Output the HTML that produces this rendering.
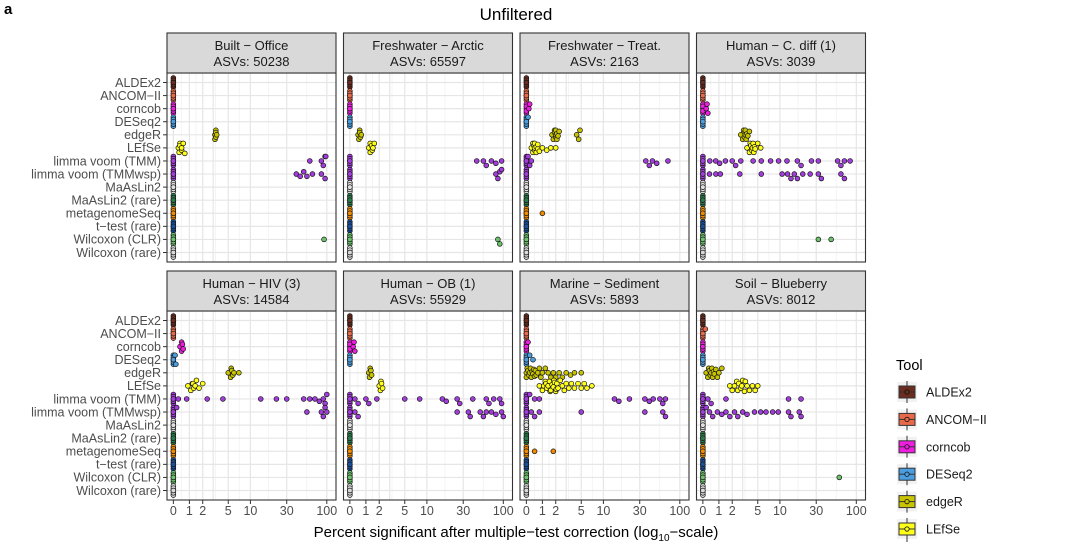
<!DOCTYPE html>
<html><head><meta charset="utf-8"><style>
html,body{margin:0;padding:0;background:#fff;}
svg{display:block;font-family:"Liberation Sans",Arial,sans-serif;}
</style></head><body>
<svg id="chart" width="1080" height="544" viewBox="0 0 1080 544">
<text x="4" y="14" font-size="15" font-weight="bold" fill="#000">a</text>
<text x="516" y="20" font-size="17" text-anchor="middle" fill="#000">Unfiltered</text>
<text x="516" y="537" font-size="15" text-anchor="middle" fill="#000">Percent significant after multiple−test correction (log<tspan font-size="10" dy="4">10</tspan><tspan dy="-4">−scale)</tspan></text>
<g id="panels"></g>
<g id="legend"></g>
</svg>
<script>
const tools = ["ALDEx2","ANCOM−II","corncob","DESeq2","edgeR","LEfSe","limma voom (TMM)","limma voom (TMMwsp)","MaAsLin2","MaAsLin2 (rare)","metagenomeSeq","t−test (rare)","Wilcoxon (CLR)","Wilcoxon (rare)"];
const toolColors = ["#6b2d1f","#e8694a","#ee1ee0","#4a9ee0","#c9c400","#ffff1a","#a23cdc","#a23cdc","#e0e0e0","#2a7a4a","#f08a00","#1a4f9a","#6cc36c","#d9d9d9"];
const legendTools = ["ALDEx2","ANCOM−II","corncob","DESeq2","edgeR","LEfSe"];
const panelTitles = ["Built − Office","Freshwater − Arctic","Freshwater − Treat.","Human − C. diff (1)","Human − HIV (3)","Human − OB (1)","Marine − Sediment","Soil − Blueberry"];
const panelASVs = [50238,65597,2163,3039,14584,55929,5893,8012];
const xTicks = [0,1,2,3,5,10,30,100];
const xTicksRow2 = [0,1,2,5,10,30,100];
const xTickLabelsRow2 = ["0","1","2","5","10","30","100"];

const builtOffice = [
 [0,0,0,0,0,0],[0,0,0,0,0,0],[0,0,0,0,0,0],[0,0,0,0,0,0],
 [3.2,3.3,3.3,3.4,3.2,3.3],
 [0.3,0.4,0.5,0.6,0.4,0.5,0.7,0.35],
 [0,0,0,0,0,0,60,85,90,95,97],
 [0,0,0,0,0,0,40,45,50,55,65,85,95],
 [0,0,0,0,0,0],[0,0,0,0,0,0],[0,0,0,0,0,0],[0,0,0,0,0,0],
 [0,0,0,0,0,0,92],[0,0,0,0,0,0]];
const freshArctic = [
 [0,0,0,0,0,0],[0,0,0,0,0,0],[0,0,0,0,0,0],[0,0,0,0,0,0],
 [0.5,0.6,0.7,0.6,0.65,0.55],
 [1.2,1.3,1.4,1.5,1.6,1.3,1.45],
 [0,0,0,0,0,0,45,55,60,70,80,95],
 [0,0,0,0,0,0,80,85,90,95],
 [0,0,0,0,0,0],[0,0,0,0,0,0],[0,0,0,0,0,0],[0,0,0,0,0,0],
 [0,0,0,0,0,0,85,90],[0,0,0,0,0,0]];
const freshTreat = [
 [0,0,0,0,0,0],[0,0,0,0,0,0],[0,0,0,0,0,0.15,0.2],[0,0,0,0,0,0,0.1],
 [1.8,1.9,2,2.1,2.2,2,1.9,2.1,2.3,1.7,2.0,4.3,4.6,4.8],
 [0.3,0.4,0.5,0.5,0.6,0.7,0.8,0.6,1.0,1.3,1.6,2.0,0.4,0.5,0.45,0.7],
 [0,0,0,0,0,0,0.1,0.2,0.3,36,40,44,50,70],
 [0,0,0,0,0,0],
 [0,0,0,0,0,0],[0,0,0,0,0,0],[0,0,0,0,0,0,1.0],[0,0,0,0,0,0],
 [0,0,0,0,0,0],[0,0,0,0,0,0]];
const humanCdiff = [
 [0,0,0,0,0,0],[0,0,0,0,0,0],[0,0,0,0,0,0.2,0.3,0.25],[0,0,0,0,0,0],
 [2.8,3.0,3.2,3.3,3.4,3.6,3.8,3.1,3.3,3.5,3.2],
 [3.5,3.8,4.0,4.2,4.4,4.6,5.0,5.5,4.1,4.3,3.9,4.5],
 [0,0,0,0,0,0,0.42,0.79,1.05,1.46,2.0,2.3,2.8,4.3,5.6,7.5,9.6,12.4,17,19,26,32,57,63,70,83],
 [0,0,0,0,0,0,0.4,0.8,1.1,2.7,5.6,10.7,12.6,14,15.5,17,20,25,32,35,63,70],
 [0,0,0,0,0,0],[0,0,0,0,0,0],[0,0,0,0,0,0],[0,0,0,0,0,0],
 [0,0,0,0,0,0,32,47],[0,0,0,0,0,0]];
const humanHIV = [
 [0,0,0,0,0,0],[0,0,0,0,0,0],[0.4,0.5,0.55,0.5,0.6],[0,0,0,0,0,0,0.1,0.15],
 [5.0,5.4,5.6,5.8,6.0,7.0,5.5],
 [0.9,1.1,1.2,1.3,1.4,1.5,1.7,2.0,1.25],
 [0,0,0,0,0,0,0.3,0.82,2.4,4.2,13.7,22,30,50,60,70,80,90,95,100],
 [0,0,0,0,0,0,0.2,55,85,90,95,100],
 [0,0,0,0,0,0],[0,0,0,0,0,0],[0,0,0,0,0,0],[0,0,0,0,0,0],
 [0,0,0,0,0,0],[0,0,0,0,0,0]];
const humanOB = [
 [0,0,0,0,0,0],[0,0,0,0,0,0],[0,0,0,0,0,0.2,0.3,0.25],[0,0,0,0,0,0],
 [1.2,1.3,1.4,1.25,1.35],
 [2.0,2.1,2.2,2.3,2.15],
 [0,0,0,0,0,0,0.3,0.5,1,1.2,1.8,5,8,16,18,25,27,40,60,65,75,90,95],
 [0,0,0,0,0,0,0.3,0.5,25,35,37,50,55,60,70,80,95,100],
 [0,0,0,0,0,0],[0,0,0,0,0,0],[0,0,0,0,0,0],[0,0,0,0,0,0],
 [0,0,0,0,0,0],[0,0,0,0,0,0]];
const marineSed = [
 [0,0,0,0,0,0],[0,0,0,0,0,0],[0,0,0,0,0,0,0.1],[0,0,0,0,0,0,0.2,0.4],
 [0,0,0.05,0.1,0.15,0.2,0.3,0.35,0.4,0.5,0.6,0.7,0.8,0.9,1.0,1.2,1.4,1.6,1.8,2.0,2.3,2.6,3,3.5,4,5,0.25,0.45,0.55],
 [0.8,1.0,1.1,1.2,1.3,1.4,1.5,1.6,1.7,1.8,1.9,2.0,2.1,2.2,2.4,2.6,2.8,3.0,3.3,3.6,4,4.5,5,5.5,6,7,1.25,1.55,1.85,2.05],
 [0,0,0,0,0,0,0.2,0.5,0.8,14,16,22,35,40,45,55,60,65],
 [0,0,0,0,0,0,0.3,0.5,0.8,5,35,60,65],
 [0,0,0,0,0,0],[0,0,0,0,0,0],[0,0,0,0,0,0,0.5,1.8],[0,0,0,0,0,0],
 [0,0,0,0,0,0],[0,0,0,0,0,0]];
const soilBlue = [
 [0,0,0,0,0,0],[0,0,0,0,0,0,0.15],[0,0,0,0,0,0],[0,0,0,0,0,0],
 [0.2,0.3,0.4,0.5,0.6,0.7,0.8,0.9,1.0,1.2,0.45,0.55,0.65,0.35],
 [1.8,2.0,2.2,2.4,2.6,2.8,3.0,3.2,3.5,3.8,4.2,4.6,5.0,2.5,2.9,3.3],
 [0,0,0,0,0,0,0.3,0.5,1.5,13,19],
 [0,0,0,0,0,0,0.2,0.4,0.6,0.9,1.2,1.5,1.8,2.2,2.5,3,3.5,4.5,5.5,6.5,8,9.5,13,14,18,19],
 [0,0,0,0,0,0],[0,0,0,0,0,0],[0,0,0,0,0,0],[0,0,0,0,0,0],
 [0,0,0,0,0,0,60],[0,0,0,0,0,0]];
const panelData = [builtOffice,freshArctic,freshTreat,humanCdiff,humanHIV,humanOB,marineSed,soilBlue];

const NS = "http://www.w3.org/2000/svg";
function mk(tag, attrs, parent){const e=document.createElementNS(NS,tag);for(const k in attrs)e.setAttribute(k,attrs[k]);if(parent)parent.appendChild(e);return e;}
const T = v => Math.asinh(v/2)/Math.LN10;
const panelLefts=[167,343.5,520,696.5], panelW=169, stripH=40;
const rowTops=[33,271];
const plotH=189;
const dMin=-0.083, dMax=2.12;
function xScale(p,v){return panelLefts[p%4] + (T(v)-dMin)/(dMax-dMin)*panelW;}
function yScale(r,i){return rowTops[r]+stripH+9.5+i*(170/13);}
const gP=document.getElementById('panels');

for(let p=0;p<8;p++){
  const r=Math.floor(p/4), left=panelLefts[p%4], top=rowTops[r], pTop=top+stripH;
  const g=mk('g',{},gP);
  
  
  mk('rect',{x:left,y:pTop,width:panelW,height:plotH,fill:'#fff'},g);
  for(let k=0;k<xTicksRow2.length-1;k++){
    const m=(T(xTicksRow2[k])+T(xTicksRow2[k+1]))/2;
    const x=left+(m-dMin)/(dMax-dMin)*panelW;
    mk('line',{x1:x,x2:x,y1:pTop,y2:pTop+plotH,stroke:'#f2f2f2','stroke-width':0.8},g);
  }
  xTicks.forEach(t=>{const x=xScale(p,t);mk('line',{x1:x,x2:x,y1:pTop,y2:pTop+plotH,stroke:'#e6e6e6','stroke-width':1.2},g);});
  tools.forEach((t,i)=>{const y=yScale(r,i);mk('line',{x1:left,x2:left+panelW,y1:y,y2:y,stroke:'#e6e6e6','stroke-width':1.2},g);});
  panelData[p].forEach((vals,i)=>{
    const yc=yScale(r,i);
    const sorted=vals.slice().sort((a,b)=>a-b);
    const placed=[];
    let cyc=0;
    const fallback=[-2.3,2.3,0,-4.5,4.5,-1.1,1.1,-3.4,3.4];
    sorted.forEach(v=>{
      const x=xScale(p,v);
      let off=null;
      const cands=[0,2.3,-2.3,4.5,-4.5,5.5,-5.5];
      for(const c of cands){
        if(placed.every(q=>Math.hypot(q[0]-x,q[1]-c)>=4.5)){off=c;break;}
      }
      if(off===null){off=fallback[cyc%fallback.length];cyc++;}
      placed.push([x,off]);
      const c=mk('circle',{cx:x.toFixed(2),cy:(yc+off).toFixed(2),r:2.4,fill:toolColors[i],stroke:'#111','stroke-width':0.7},g);
      
      
    });
  });
  mk('rect',{x:left,y:pTop,width:panelW,height:plotH,fill:'none',stroke:'#333','stroke-width':1.1},g);
  const s=mk('rect',{x:left,y:top,width:panelW,height:stripH,fill:'#d9d9d9',stroke:'#333','stroke-width':1.1},g);
  
  
  const st=mk('text',{x:left+panelW/2,y:top+17,'font-size':13,'text-anchor':'middle',fill:'#1a1a1a'},g);
  st.textContent=panelTitles[p];
  
  
  const st2=mk('text',{x:left+panelW/2,y:top+33,'font-size':13,'text-anchor':'middle',fill:'#1a1a1a'},g);
  st2.textContent='ASVs: '+panelASVs[p];
  
  
  if(p%4===0){
    tools.forEach((t,i)=>{
      const y=yScale(r,i);
      mk('line',{x1:left-4,x2:left,y1:y,y2:y,stroke:'#333','stroke-width':1},g);
      const tx=mk('text',{x:left-6,y:y+4.3,'font-size':12.5,'text-anchor':'end',fill:'#4d4d4d'},g);
      tx.textContent=t;
      
      
    });
  }
  if(r===1){
    xTicksRow2.forEach((t,k)=>{
      const x=xScale(p,t);
      mk('line',{x1:x,x2:x,y1:pTop+plotH,y2:pTop+plotH+4,stroke:'#333','stroke-width':1},g);
      const tx=mk('text',{x:x,y:pTop+plotH+15,'font-size':12.5,'text-anchor':'middle',fill:'#4d4d4d'},g);
      tx.textContent=xTickLabelsRow2[k];
      
      
    });
  }
}
const gL=document.getElementById('legend');
const lt=mk('text',{x:896,y:370,'font-size':14.5,fill:'#000'},gL);
lt.textContent='Tool';


legendTools.forEach((t,i)=>{
  const yc=392+i*27.4;
  const g=mk('g',{},gL);
  
  
  mk('rect',{x:897,y:yc-10,width:20,height:20,fill:'#f2f2f2'},g);
  mk('line',{x1:907,x2:907,y1:yc-11,y2:yc+11,stroke:'#333','stroke-width':1},g);
  mk('rect',{x:899,y:yc-6,width:16,height:12,fill:toolColors[i],stroke:'#333','stroke-width':1},g);
  mk('line',{x1:899,x2:915,y1:yc,y2:yc,stroke:'#333','stroke-width':1},g);
  mk('circle',{cx:907,cy:yc,r:2.2,fill:toolColors[i],stroke:'#111','stroke-width':0.8},g);
  const tx=mk('text',{x:926,y:yc+4.5,'font-size':12.5,fill:'#1a1a1a'},g);
  tx.textContent=t;
});
mk('line',{x1:907,x2:907,y1:536,y2:544,stroke:'#333','stroke-width':1,'stroke-dasharray':'2,2'},gL);
</script>
</body></html>
